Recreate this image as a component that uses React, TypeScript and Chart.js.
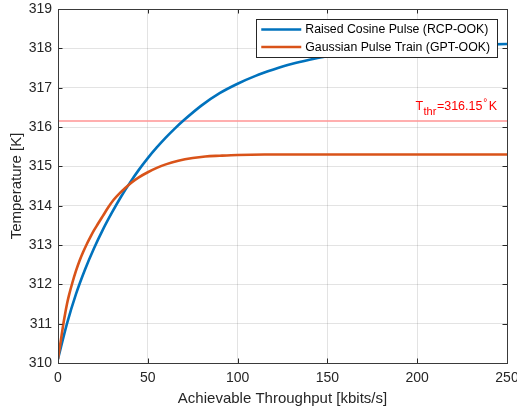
import React, { useEffect, useRef } from 'react';
import { Chart, registerables } from 'chart.js';

Chart.register(...registerables);

// ---- Data ----
const rcpThroughput = [0, 5, 10, 15, 20, 25, 30, 35, 40, 45, 50, 55, 60, 65, 70, 80, 90, 100, 110, 120, 130, 140, 150, 165, 180, 200, 225, 250];
const rcpTemperature = [310.1, 311.0, 311.75, 312.37, 312.91, 313.39, 313.82, 314.22, 314.58, 314.91, 315.21, 315.48, 315.73, 315.96, 316.17, 316.55, 316.86, 317.1, 317.3, 317.46, 317.6, 317.71, 317.8, 317.9, 317.97, 318.03, 318.08, 318.11];

const gptThroughput = [0, 1, 2, 3, 4, 5, 6, 8, 10, 12, 14, 16, 18, 20, 22, 25, 28, 31, 34, 37, 41, 45, 50, 55, 60, 67, 75, 82, 90, 100, 115, 130, 250];
const gptTemperature = [310.1, 310.4, 310.7, 311.0, 311.26, 311.5, 311.7, 312.04, 312.34, 312.6, 312.82, 313.02, 313.2, 313.37, 313.52, 313.74, 313.96, 314.15, 314.3, 314.43, 314.59, 314.72, 314.85, 314.96, 315.05, 315.14, 315.21, 315.25, 315.27, 315.29, 315.3, 315.3, 315.3];

const thresholdThroughput = [0, 250];
const thresholdTemperature = [316.15, 316.15];
const thresholdLabelX = 199;

const seriesLabels = ['Raised Cosine Pulse (RCP-OOK)', 'Gaussian Pulse Train (GPT-OOK)'];
const seriesColors = ['#0072BD', '#D95319'];

const xMin = 0;
const xMax = 250;
const xStep = 50;
const yMin = 310;
const yMax = 319;
const yStep = 1;

const xTitle = 'Achievable Throughput [kbits/s]';
const yTitle = 'Temperature [K]';

const FONT = '"Liberation Sans", Arial, Helvetica, sans-serif';
const AXIS_COLOR = '#262626';

const toPoints = (xs: number[], ys: number[]) => xs.map((x, i) => ({ x, y: ys[i] }));

const decorPlugin = {
  id: 'matlabDecor',
  afterDraw(chart: any) {
    const { ctx, chartArea, scales } = chart;
    const { left, right, top, bottom } = chartArea;
    const xs = scales.x;
    const ys = scales.y;
    ctx.save();

    // Inward tick marks
    ctx.strokeStyle = AXIS_COLOR;
    ctx.lineWidth = 1;
    const tl = 4.5;
    ctx.beginPath();
    for (let v = xMin; v <= xMax; v += xStep) {
      const px = Math.round(xs.getPixelForValue(v)) + 0.5;
      ctx.moveTo(px, bottom);
      ctx.lineTo(px, bottom - tl);
      ctx.moveTo(px, top);
      ctx.lineTo(px, top + tl);
    }
    for (let v = yMin; v <= yMax; v += yStep) {
      const py = Math.round(ys.getPixelForValue(v)) + 0.5;
      ctx.moveTo(left, py);
      ctx.lineTo(left + tl, py);
      ctx.moveTo(right, py);
      ctx.lineTo(right - tl, py);
    }
    ctx.stroke();

    // Box
    ctx.strokeStyle = '#3a3a3a';
    ctx.lineWidth = 1;
    ctx.strokeRect(Math.round(left) + 0.5, Math.round(top) + 0.5, Math.round(right - left), Math.round(bottom - top));

    // Threshold annotation
    const baseY = ys.getPixelForValue(thresholdTemperature[0]) - 11;
    let cx = xs.getPixelForValue(thresholdLabelX);
    ctx.fillStyle = '#ff0000';
    ctx.textBaseline = 'alphabetic';
    ctx.textAlign = 'left';
    const big = `12.5px ${FONT}`;
    const small = `11px ${FONT}`;
    ctx.font = big;
    ctx.fillText('T', cx, baseY);
    cx += ctx.measureText('T').width + 0.5;
    ctx.font = small;
    ctx.fillText('thr', cx, baseY + 5);
    cx += ctx.measureText('thr').width + 0.5;
    ctx.font = big;
    ctx.fillText('=316.15', cx, baseY);
    cx += ctx.measureText('=316.15').width + 0.8;
    ctx.font = `10px ${FONT}`;
    ctx.fillText('°', cx, baseY - 4);
    cx += ctx.measureText('°').width + 1.5;
    ctx.font = big;
    ctx.fillText('K', cx, baseY);

    // Legend
    ctx.font = `12.3px ${FONT}`;
    const textW = Math.max(...seriesLabels.map((s) => ctx.measureText(s).width));
    const boxRight = right - 10;
    const boxTop = top + 10;
    const boxW = 5 + 40 + 4 + textW + 7;
    const boxH = 38;
    const boxLeft = boxRight - boxW;
    ctx.fillStyle = '#ffffff';
    ctx.fillRect(Math.round(boxLeft), Math.round(boxTop), Math.round(boxW), boxH);
    ctx.strokeStyle = AXIS_COLOR;
    ctx.lineWidth = 1;
    ctx.strokeRect(Math.round(boxLeft) + 0.5, Math.round(boxTop) + 0.5, Math.round(boxW), boxH);
    seriesLabels.forEach((label, i) => {
      const ry = boxTop + 10.5 + i * 17.5;
      ctx.strokeStyle = seriesColors[i];
      ctx.lineWidth = 2.5;
      ctx.beginPath();
      ctx.moveTo(boxLeft + 5, ry);
      ctx.lineTo(boxLeft + 45, ry);
      ctx.stroke();
      ctx.fillStyle = '#000000';
      ctx.textBaseline = 'middle';
      ctx.fillText(label, boxLeft + 49, ry + 0.5);
    });

    ctx.restore();
  },
};

export default function App() {
  const canvasRef = useRef<HTMLCanvasElement | null>(null);

  useEffect(() => {
    if (!canvasRef.current) return;
    const chart = new Chart(canvasRef.current, {
      type: 'line',
      data: {
        datasets: [
          {
            label: 'threshold',
            data: toPoints(thresholdThroughput, thresholdTemperature),
            borderColor: '#ff9494',
            borderWidth: 1.5,
            pointRadius: 0,
            order: 3,
          },
          {
            label: seriesLabels[0],
            data: toPoints(rcpThroughput, rcpTemperature),
            borderColor: seriesColors[0],
            borderWidth: 2.6,
            pointRadius: 0,
            cubicInterpolationMode: 'monotone',
            order: 2,
          },
          {
            label: seriesLabels[1],
            data: toPoints(gptThroughput, gptTemperature),
            borderColor: seriesColors[1],
            borderWidth: 2.6,
            pointRadius: 0,
            cubicInterpolationMode: 'monotone',
            order: 1,
          },
        ],
      },
      options: {
        responsive: false,
        animation: false,
        devicePixelRatio: 1,
        layout: { padding: { top: 9, right: 10, left: 0, bottom: 0 } },
        plugins: {
          legend: { display: false },
          tooltip: { enabled: false },
        },
        scales: {
          x: {
            type: 'linear',
            min: xMin,
            max: xMax,
            ticks: {
              stepSize: xStep,
              padding: 7,
              color: AXIS_COLOR,
              font: { family: FONT, size: 14 },
              maxRotation: 0,
            },
            grid: { color: 'rgba(38,38,38,0.13)', lineWidth: 1, drawTicks: false },
            border: { display: false },
            title: {
              display: true,
              text: xTitle,
              color: AXIS_COLOR,
              font: { family: FONT, size: 15 },
              padding: { top: 0, bottom: 3.5 },
            },
            afterFit: (s: any) => {
              s.height = 48;
              s.paddingLeft = 0;
              s.paddingRight = 0;
            },
          },
          y: {
            type: 'linear',
            min: yMin,
            max: yMax,
            ticks: {
              stepSize: yStep,
              padding: 6,
              color: AXIS_COLOR,
              font: { family: FONT, size: 14 },
            },
            grid: { color: 'rgba(38,38,38,0.13)', lineWidth: 1, drawTicks: false },
            border: { display: false },
            title: {
              display: true,
              text: yTitle,
              color: AXIS_COLOR,
              font: { family: FONT, size: 15 },
              padding: { top: 7.5, bottom: 0 },
            },
            afterFit: (s: any) => {
              s.width = 58;
              s.paddingTop = 0;
              s.paddingBottom = 0;
            },
          },
        },
      } as any,
      plugins: [decorPlugin],
    });
    return () => chart.destroy();
  }, []);

  return (
    <div style={{ position: 'fixed', left: 0, top: 0, width: 517, height: 411, background: '#ffffff' }}>
      <canvas ref={canvasRef} width={517} height={411} />
    </div>
  );
}
